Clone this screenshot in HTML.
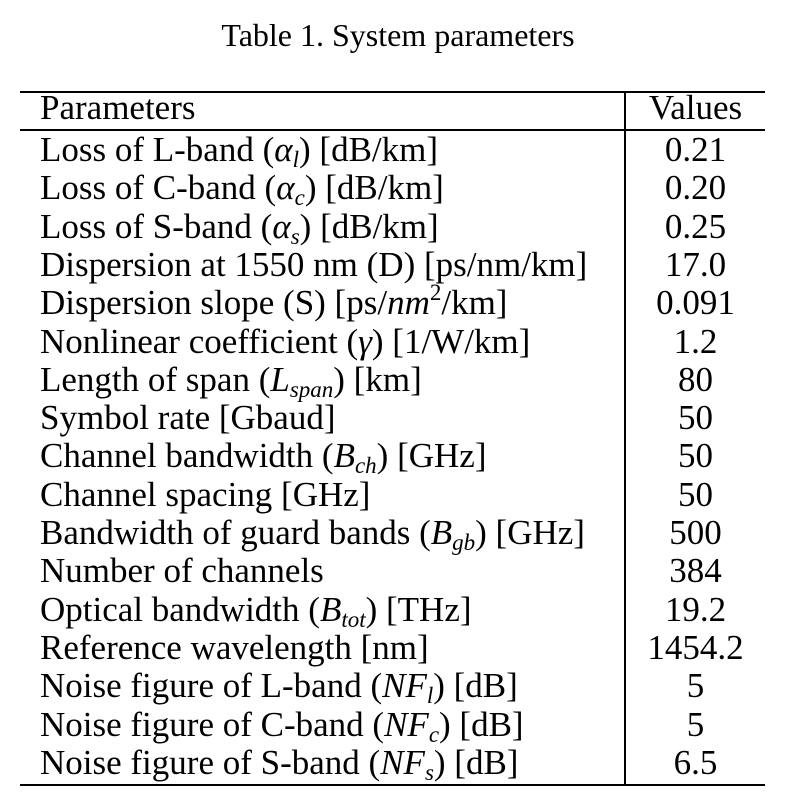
<!DOCTYPE html>
<html><head><meta charset="utf-8">
<style>
body{margin:0;background:#fff;width:796px;height:804px;position:relative;overflow:hidden;font-family:"Liberation Serif",serif;color:#000}
.t{position:absolute;left:0;width:796px;text-align:center;top:16px;font-size:32px;line-height:38px}
.r{position:absolute;height:38px;line-height:38px;font-size:35px;white-space:nowrap}
.p{left:40px}
.v{left:626px;width:139px;text-align:center}
.h{position:absolute;left:20px;width:745px;background:#000}
.vl{position:absolute;left:624px;width:1.5px;top:92px;height:694px;background:#000}
i{font-style:italic}
sub{font-size:23px;vertical-align:-6px;line-height:0}
sup{font-size:23px;vertical-align:14px;line-height:0}
</style></head><body>
<div class="t">Table 1. System parameters</div>
<div class="h" style="top:91px;height:2px"></div>
<div class="h" style="top:129px;height:1.5px"></div>
<div class="h" style="top:784px;height:2px"></div>
<div class="vl"></div>
<div id="rows"></div>
<script>
const params=["Parameters","Loss of L-band (<i>α<sub>l</sub></i>) [dB/km]","Loss of C-band (<i>α<sub>c</sub></i>) [dB/km]","Loss of S-band (<i>α<sub>s</sub></i>) [dB/km]","Dispersion at 1550 nm (D) [ps/nm/km]","Dispersion slope (S) [ps/<i>nm</i><sup>2</sup>/km]","Nonlinear coefficient (<i>γ</i>) [1/W/km]","Length of span (<i>L<sub>span</sub></i>) [km]","Symbol rate [Gbaud]","Channel bandwidth (<i>B<sub>ch</sub></i>) [GHz]","Channel spacing [GHz]","Bandwidth of guard bands (<i>B<sub>gb</sub></i>) [GHz]","Number of channels","Optical bandwidth (<i>B<sub>tot</sub></i>) [THz]","Reference wavelength [nm]","Noise figure of L-band (<i>NF<sub>l</sub></i>) [dB]","Noise figure of C-band (<i>NF<sub>c</sub></i>) [dB]","Noise figure of S-band (<i>NF<sub>s</sub></i>) [dB]"];
const values=["Values","0.21","0.20","0.25","17.0","0.091","1.2","80","50","50","50","500","384","19.2","1454.2","5","5","6.5"];
const c=document.getElementById('rows');
params.forEach((p,k)=>{
 const top=(k===0?89:131+(k-1)*38.3);
 const a=document.createElement('div');a.className='r p';a.style.top=top+'px';a.innerHTML=p;
 
 
 const b=document.createElement('div');b.className='r v';b.style.top=top+'px';b.textContent=values[k];
 
 
 c.appendChild(a);c.appendChild(b);
});
</script>
</body></html>
